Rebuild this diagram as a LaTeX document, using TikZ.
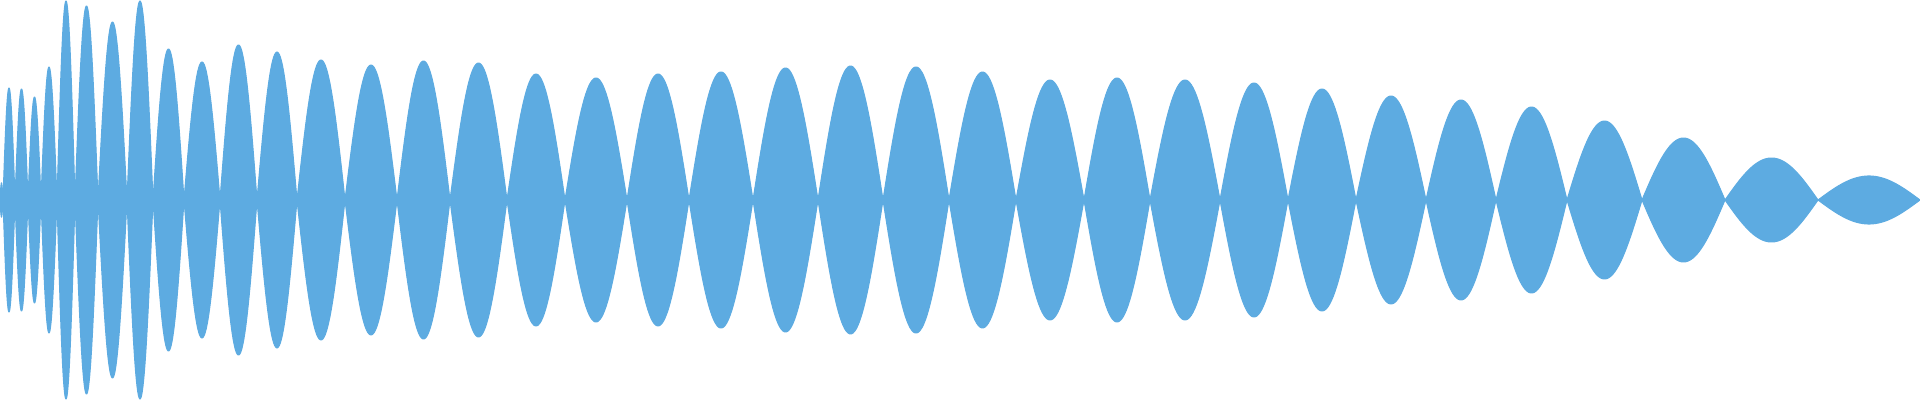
\documentclass[tikz,border=0pt]{standalone}
\definecolor{wv}{HTML}{5DABE1}
\tikzset{wave/.style={fill=wv,draw=wv,line width=0.3pt}}
\begin{document}
\begin{tikzpicture}[x=0.01cm,y=0.01cm]
\useasboundingbox (0,0) rectangle (1920,400);
\draw[wv,line width=0.02cm] (0,200) -- (1920,200);
\foreach \a/\b/\h in {0/3/17,3/15/112,15/28/111,28/41/103,41/57/133,57/75/199,75/98/194,98/127/178,127/153/199,153/184/151,184/220/138,220/257/155,257/297/148,297/345/140,345/397/135,397/450/139,450/507/137,507/565/126,565/627/122,627/689/126,689/753/128,753/818/132,818/883/134,883/949/133,949/1016/128,1016/1084/120,1084/1150/122,1150/1220/120,1220/1288/117,1288/1356/111,1356/1426/104,1426/1496/100,1496/1567/93,1567/1642/79,1642/1725/62,1725/1818/42,1818/1920/24}{
\fill[wave] plot[domain=0:1,samples=40] ({\a+(\b-\a)*\x},{200+\h*sin(180*\x)}) -- plot[domain=1:0,samples=40] ({\a+(\b-\a)*\x},{200-\h*sin(180*\x)}) -- cycle;
}
\end{tikzpicture}
\end{document}
